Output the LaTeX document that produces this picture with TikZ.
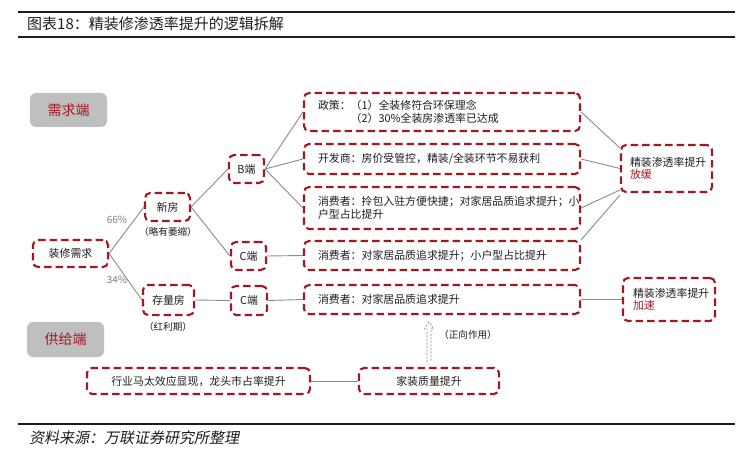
\documentclass[tikz,border=0pt]{standalone}
\usepackage{fontspec}
\newfontfamily\cjk{Noto Sans CJK SC}
\newfontfamily\cjkit[FakeSlant=0.2]{Noto Sans CJK SC}
\usetikzlibrary{calc}
\definecolor{dred}{RGB}{163,24,32}
\definecolor{txt}{RGB}{30,30,30}
\definecolor{conn}{RGB}{140,140,140}
\definecolor{gbox}{RGB}{191,191,191}
\tikzset{
  dbox/.style={draw=dred, line width=2.1pt, dash pattern=on 7.5pt off 4pt, rounded corners=5pt,
    inner sep=0pt, text=txt, font=\cjk\fontsize{10.9}{12.5}\selectfont, align=center},
  lbox/.style={dbox, align=left, inner xsep=14pt},
  gray box/.style={fill=gbox, rounded corners=6pt, text=dred, font=\cjk\fontsize{14}{16}\selectfont,
    minimum width=77pt, minimum height=34pt, inner sep=0pt},
  cline/.style={draw=conn, line width=0.9pt},
  small/.style={text=txt, font=\cjk\fontsize{9.6}{11}\selectfont, inner sep=0pt},
  pct/.style={text=conn!90!black, font=\cjk\fontsize{10}{11}\selectfont, inner sep=0pt},
  rule/.style={draw=txt, line width=1.6pt}
}
\begin{document}
\begin{tikzpicture}[x=1pt,y=-1pt]
\useasboundingbox (0,0) rectangle (750,457);
\fill[white] (0,0) rectangle (750,457);
% header and footer
\draw[rule] (18,12) -- (735,12);
\draw[rule] (18,37) -- (735,37);
\node[anchor=west, text=txt, font=\cjk\fontsize{15}{17}\selectfont, inner sep=0pt] (title) at (27,24) {图表18：精装修渗透率提升的逻辑拆解};
\draw[rule] (18,424) -- (735,424);
\node[anchor=west, text=txt, font=\cjkit\fontsize{15}{17}\selectfont, inner sep=0pt] (source) at (29,438) {资料来源：万联证券研究所整理};
% side labels
\node[gray box] (need) at (68.5,110) {需求端};
\node[gray box, minimum height=35pt] (supply) at (65.5,339.5) {供给端};
% demand tree
\node[dbox, minimum width=75pt, minimum height=27pt] (zx) at (70.5,253.5) {装修需求};
\node[dbox, minimum width=45pt, minimum height=28pt] (xf) at (167.5,207) {新房};
\node[dbox, minimum width=51pt, minimum height=30pt] (cl) at (168.5,300) {存量房};
\node[small] (xfl) at (168,232) {（略有萎缩）};
\node[small] (cll) at (168,327) {（红利期）};
\node[pct] (p66) at (117,220) {66\%};
\node[pct] (p34) at (117,280) {34\%};
\node[dbox, minimum width=35pt, minimum height=28pt] (B) at (246.5,169) {B端};
\node[dbox, minimum width=35pt, minimum height=28pt] (C1) at (248.5,256) {C端};
\node[dbox, minimum width=36pt, minimum height=29pt] (C2) at (249,300.5) {C端};
\node[lbox, text width=248pt, minimum height=38pt] (pol) at (442,112) {政策：（1）全装修符合环保理念\\\hphantom{政策：}（2）30\%全装房渗透率已达成};
\node[lbox, text width=248pt, minimum height=30pt] (dev) at (442,159) {开发商：房价受管控，精装/全装环节不易获利};
\node[lbox, text width=248pt, minimum height=42pt] (con1) at (442,208) {消费者：拎包入驻方便快捷；对家居品质追求提升；小\\户型占比提升};
\node[lbox, text width=248pt, minimum height=29pt] (con2) at (442,255.5) {消费者：对家居品质追求提升；小户型占比提升};
\node[lbox, text width=248pt, minimum height=29pt] (con3) at (442,299.5) {消费者：对家居品质追求提升};
\node[dbox, align=left, inner xsep=9pt, text width=73pt, minimum height=47pt] (slow) at (666.5,168.5) {精装渗透率提升\\\textcolor{dred}{放缓}};
\node[dbox, align=left, inner xsep=10pt, text width=72pt, minimum height=43pt] (fast) at (669,299.5) {精装渗透率提升\\\textcolor{dred}{加速}};
% supply
\node[dbox, minimum width=223pt, minimum height=26pt] (mt) at (198.5,381) {行业马太效应显现，龙头市占率提升};
\node[dbox, minimum width=140pt, minimum height=26pt] (jz) at (429,381) {家装质量提升};
\node[small, anchor=west] (pos) at (439,335) {（正向作用）};
% connectors
\draw[cline] (zx.east) -- (xf.west);
\draw[cline] (zx.east) -- (cl.west);
\draw[cline] (xf.east) -- (B.west);
\draw[cline] (xf.east) -- (C1.west);
\draw[cline] (cl.east) -- (C2.west);
\draw[cline] (B.east) -- (pol.west);
\draw[cline] (B.east) -- (dev.west);
\draw[cline] (B.east) -- (con1.west);
\draw[cline] (C1.east) -- (con2.west);
\draw[cline] (C2.east) -- (con3.west);
\draw[cline] (pol.east) -- ($(slow.north west)+(0,4)$);
\draw[cline] (dev.east) -- (slow.west);
\draw[cline] (con1.east) -- ($(slow.south west)+(0,-3)$);
\draw[cline] (con2.north east) -- ($(slow.south west)+(0,2)$);
\draw[cline] (con3.east) -- (fast.west);
\draw[cline] (mt.east) -- (jz.west);
% hollow dashed arrow
\begin{scope}[shift={(jz.north)}]
\draw[draw=conn, line width=0.7pt, dash pattern=on 2pt off 1.5pt]
  (-2,-5) -- (-2,-38) -- (-4.5,-38) -- (0,-45) -- (4.5,-38) -- (2,-38) -- (2,-5);
\end{scope}
\end{tikzpicture}
\end{document}
